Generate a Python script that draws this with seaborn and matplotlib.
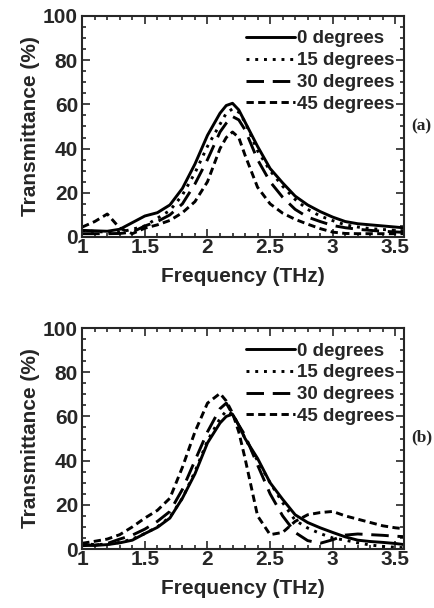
import numpy as np
import pandas as pd
import seaborn as sns
import matplotlib
matplotlib.use("Agg")
import matplotlib.pyplot as plt
from matplotlib.ticker import MultipleLocator

# frequency grid (THz), shared by all curves
freq = [1.0, 1.1, 1.2, 1.3, 1.4, 1.5, 1.6, 1.7, 1.8, 1.9, 2.0, 2.1, 2.15, 2.2, 2.25,
        2.3, 2.4, 2.5, 2.6, 2.7, 2.8, 2.9, 3.0, 3.1, 3.2, 3.3, 3.4, 3.5, 3.6]

angles = ["0 degrees", "15 degrees", "30 degrees", "45 degrees"]

# panel (a) transmittance (%)
a_0 = [3, 2.8, 2.6, 3.5, 6.5, 9.5, 11, 14.5, 22, 33, 46, 56, 59.5, 60.5, 57.5,
       52, 41, 31, 24.5, 18.5, 14.5, 11.5, 9, 7, 6, 5.5, 5, 4.5, 4]
a_15 = [3, 2.5, 2.2, 2.2, 3.5, 5, 8.5, 12, 19, 29, 41, 51, 56, 58, 56.5,
        52, 39, 30, 23, 17, 12.5, 9.5, 7.4, 5.5, 4.5, 3.8, 3.4, 3, 2.8]
a_30 = [1.5, 1.5, 1.5, 1.6, 2.2, 5, 7, 10, 15, 24, 35, 47.5, 51.5, 54.5, 53,
        48.5, 35, 25, 18, 12.5, 9, 7, 5.2, 4.2, 3.5, 3, 2.6, 2.3, 2]
a_45 = [4.5, 7, 10.4, 4, 1.5, 4, 5.5, 7.5, 11, 16, 25, 40, 45, 47.5, 45,
        37, 22.5, 15, 10.8, 8, 5.8, 3.8, 2.2, 1.6, 1.5, 1.5, 1.5, 1.5, 1.5]

# panel (b) transmittance (%)
b_0 = [2, 1.6, 2, 2.8, 4, 7, 9.8, 14, 23, 34, 48, 57, 60, 61, 56,
       50, 41, 30, 22.5, 15.5, 12, 9.6, 7.5, 5.5, 4, 3.4, 3, 2.5, 1.8]
b_15 = [2.5, 2, 2.2, 3, 4.5, 7, 10, 14.5, 23, 35, 49, 59, 62.5, 61, 56,
        50, 40, 30, 21, 13, 9.5, 7, 5, 4, 2.8, 1.8, 1.2, 0.8, 0.5]
b_30 = [1.5, 1.8, 2.5, 4.5, 6.3, 9, 12.5, 17, 27, 40, 53, 63.5, 66, 61, 56,
        51.5, 38, 25, 15, 7.5, 3.8, 2.6, 4.2, 6.3, 6.8, 6.5, 6.2, 5.8, 5.5]
b_45 = [2.6, 3.5, 4.5, 6.5, 10, 14, 17.5, 23, 37, 53, 66, 70.4, 67, 61.5, 53,
        41, 15, 6.5, 7.5, 12.5, 15.5, 16.5, 17, 15, 13.5, 12, 10.5, 9.6, 9]

panels = {"(a)": [a_0, a_15, a_30, a_45], "(b)": [b_0, b_15, b_30, b_45]}

sns.set_style("ticks")
plt.rcParams["font.family"] = ["Liberation Sans", "DejaVu Sans"]
plt.rcParams["font.weight"] = "bold"
plt.rcParams["axes.labelweight"] = "bold"

dash_map = {"0 degrees": "", "15 degrees": (1, 2), "30 degrees": (6, 3), "45 degrees": (2.5, 1.5)}

fig = plt.figure(figsize=(4.35, 6.08), dpi=100)
axes_pos = {"(a)": [0.189, 0.6102, 0.740, 0.3635], "(b)": [0.189, 0.097, 0.740, 0.3635]}
tag_y = {"(a)": 1 - 126 / 608, "(b)": 1 - 437 / 608}

for tag, series in panels.items():
    rows = []
    for ang, vals in zip(angles, series):
        for f, v in zip(freq, vals):
            rows.append({"freq": f, "T": v, "angle": ang})
    df = pd.DataFrame(rows)

    ax = fig.add_axes(axes_pos[tag])
    sns.lineplot(data=df, x="freq", y="T", hue="angle", style="angle",
                 palette=["black"] * 4, dashes=dash_map, hue_order=angles,
                 style_order=angles, linewidth=2.1, errorbar=None,
                 legend=False, ax=ax)

    ax.set_xlim(1, 3.57)
    ax.set_ylim(0, 100)
    ax.xaxis.set_minor_locator(MultipleLocator(0.1))
    ax.yaxis.set_major_locator(MultipleLocator(20))
    ax.yaxis.set_minor_locator(MultipleLocator(5))
    ax.set_xticks([1, 1.5, 2, 2.5, 3, 3.5])
    ax.set_xticklabels(["1", "1.5", "2", "2.5", "3", "3.5"])
    ax.tick_params(which="both", direction="in", top=True, right=True,
                   labelsize=15, width=1.2)
    ax.tick_params(which="major", length=6)
    ax.tick_params(which="minor", length=3)
    ax.tick_params(axis="x", pad=1)
    ax.tick_params(axis="y", pad=3)
    for sp in ax.spines.values():
        sp.set_linewidth(1.5)

    ax.set_xlabel("Frequency (THz)", fontsize=15, labelpad=7)
    ax.set_ylabel("Transmittance (%)", fontsize=15, labelpad=2)

    handles = ax.get_lines()[:4]
    ax.legend(handles, angles, loc="upper right", bbox_to_anchor=(0.97, 0.935),
              frameon=False, fontsize=13.5, handlelength=2.6, handletextpad=0.1,
              labelspacing=0.25, borderaxespad=0, borderpad=0)

    fig.text(0.945, tag_y[tag], tag, family="Liberation Serif", fontweight="bold",
             fontsize=12.5, ha="left", va="center")

fig.savefig("out.png", dpi=100)
